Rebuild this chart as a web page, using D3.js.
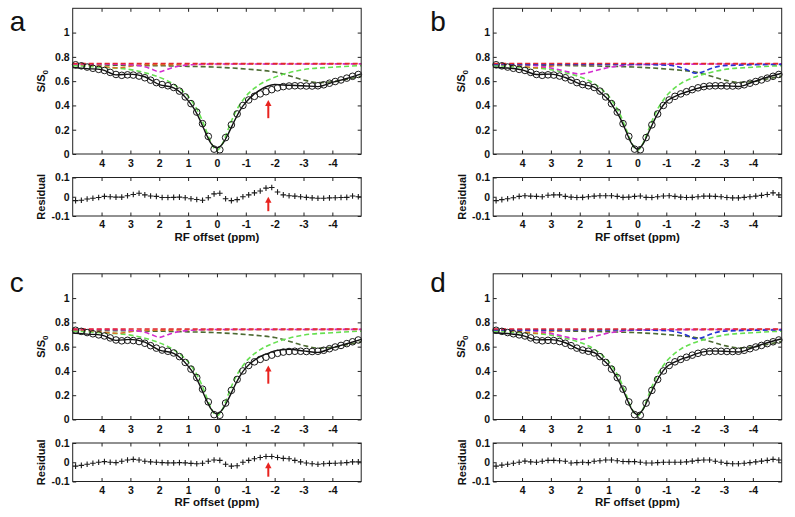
<!DOCTYPE html>
<html><head><meta charset="utf-8">
<script src="https://cdn.jsdelivr.net/npm/d3@7"></script>
<style>body{margin:0;background:#fff}svg{display:block}</style>
</head><body>
<svg id="c" width="795" height="517"></svg>
<script>
// ---------- data ----------
const panelLabels = ["a","b","c","d"];
const xTicks = [4,3,2,1,0,-1,-2,-3,-4];
const yTicks = [0,0.2,0.4,0.6,0.8,1];
const rTicks = [-0.1,0,0.1];

const offsets = [4.9,4.7,4.5,4.3,4.1,3.9,3.7,3.5,3.3,3.1,2.9,2.7,2.5,2.3,2.1,1.9,1.7,1.5,1.3,1.1,0.9,0.7,0.5,0.3,0.1,-0.1,-0.3,-0.5,-0.7,-0.9,-1.1,-1.3,-1.5,-1.7,-1.9,-2.1,-2.3,-2.5,-2.7,-2.9,-3.1,-3.3,-3.5,-3.7,-3.9,-4.1,-4.3,-4.5,-4.7,-4.9];
const zData = [0.735,0.726,0.716,0.706,0.697,0.688,0.672,0.655,0.648,0.652,0.65,0.642,0.628,0.608,0.588,0.572,0.562,0.548,0.518,0.47,0.415,0.345,0.25,0.145,0.04,0.035,0.135,0.24,0.33,0.4,0.445,0.475,0.495,0.513,0.53,0.545,0.555,0.56,0.562,0.562,0.56,0.56,0.562,0.57,0.583,0.597,0.61,0.625,0.64,0.655];

const residA = [-0.02,-0.018,-0.012,-0.008,-0.004,0.002,0.0,-0.002,-0.002,0.005,0.012,0.018,0.01,0.004,0.002,-0.004,-0.004,-0.003,-0.002,-0.005,-0.01,-0.014,-0.018,-0.005,0.015,0.018,-0.01,-0.02,-0.015,0.0,0.01,0.02,0.03,0.045,0.048,0.025,0.01,0.005,0.003,0.0,-0.003,-0.006,-0.008,-0.008,-0.006,-0.005,-0.004,-0.003,0.004,0.0];
const residB = [-0.02,-0.015,-0.01,-0.005,0.002,0.005,0.003,0.002,0.0,0.008,0.01,0.01,0.002,-0.002,-0.004,-0.003,0.0,0.003,0.005,0.005,0.005,0.002,-0.003,-0.002,0.002,0.004,-0.003,-0.004,0.0,0.004,0.005,0.002,-0.002,-0.004,-0.003,0.0,0.003,0.003,0.002,0.0,-0.004,-0.006,-0.006,-0.003,0.0,0.003,0.007,0.012,0.02,0.01];
const residC = [-0.02,-0.016,-0.01,-0.005,0.0,0.003,0.0,-0.002,0.005,0.012,0.015,0.012,0.005,0.002,0.0,-0.002,-0.003,-0.003,-0.002,-0.003,-0.006,-0.008,-0.005,0.005,0.012,0.01,-0.01,-0.02,-0.018,0.0,0.01,0.018,0.025,0.03,0.03,0.025,0.02,0.018,0.01,0.002,-0.004,-0.008,-0.01,-0.008,-0.006,-0.005,-0.004,-0.002,0.002,0.002];
const residD = [-0.02,-0.015,-0.01,-0.005,0.0,0.006,0.002,0.0,0.005,0.01,0.01,0.008,0.005,-0.004,-0.002,0.0,-0.002,0.005,0.008,0.012,0.012,0.008,0.004,0.003,0.003,0.0,-0.004,-0.004,-0.002,0.0,0.0,0.0,0.0,0.002,0.006,0.01,0.012,0.012,0.005,0.0,-0.006,-0.008,-0.008,-0.005,-0.002,0.002,0.006,0.01,0.015,0.012];

const fitX = [5,4.5,4,3.5,3,2.5,2,1.5,1.25,1,0.8,0.6,0.4,0.2,0,-0.2,-0.4,-0.6,-0.8,-1,-1.25,-1.5,-1.75,-2,-2.5,-3,-3.5,-4,-4.5,-5];
const fitA = [0.712,0.703,0.695,0.652,0.658,0.636,0.572,0.545,0.505,0.44,0.375,0.285,0.178,0.085,0.05,0.085,0.17,0.27,0.36,0.425,0.485,0.528,0.558,0.572,0.566,0.562,0.555,0.59,0.622,0.66];
const fitB = [0.715,0.708,0.693,0.655,0.658,0.63,0.578,0.55,0.5,0.445,0.375,0.295,0.19,0.085,0.04,0.085,0.185,0.285,0.37,0.43,0.468,0.495,0.515,0.535,0.56,0.562,0.556,0.593,0.632,0.665];
const fitC = [0.712,0.703,0.695,0.652,0.66,0.638,0.572,0.545,0.505,0.44,0.375,0.285,0.178,0.085,0.045,0.085,0.17,0.27,0.36,0.425,0.48,0.518,0.543,0.565,0.578,0.565,0.553,0.59,0.624,0.66];
const fitD = [0.715,0.708,0.693,0.656,0.658,0.632,0.575,0.552,0.503,0.447,0.377,0.295,0.19,0.085,0.04,0.085,0.185,0.285,0.37,0.43,0.468,0.495,0.515,0.537,0.565,0.562,0.556,0.593,0.632,0.665];

// water (light green)
const waterX = [5,4,3,2.5,2,1.5,1.2,1,0.8,0.6,0.4,0.2,0,-0.2,-0.4,-0.6,-0.8,-1,-1.2,-1.5,-2,-2.5,-3,-4,-5];
const waterA = [0.728,0.715,0.695,0.67,0.632,0.575,0.522,0.475,0.41,0.325,0.21,0.09,0.03,0.09,0.21,0.325,0.41,0.475,0.522,0.575,0.632,0.67,0.695,0.715,0.728];
const waterB = [0.728,0.715,0.695,0.67,0.635,0.58,0.525,0.478,0.41,0.325,0.21,0.09,0.03,0.09,0.21,0.325,0.41,0.478,0.525,0.58,0.635,0.67,0.695,0.715,0.728];
// NOE / MT (dark olive)
const noeX = [5,4,3,2,1,0,-1,-1.5,-2,-2.5,-3,-3.5,-4,-4.5,-5];
const noeA = [0.736,0.733,0.73,0.727,0.722,0.715,0.70,0.69,0.675,0.645,0.61,0.588,0.595,0.615,0.64];
const noeB = [0.736,0.733,0.73,0.727,0.722,0.715,0.70,0.69,0.675,0.645,0.61,0.59,0.597,0.618,0.643];
// amine 2 ppm (magenta)
const amineX = [5,4,3.5,3,2.5,2.25,2,1.75,1.5,1,0.5,0,-5];
const amineA = [0.742,0.741,0.74,0.735,0.718,0.698,0.676,0.695,0.715,0.733,0.739,0.741,0.742];
const amineB = [0.742,0.738,0.728,0.708,0.682,0.668,0.658,0.668,0.684,0.712,0.73,0.738,0.742];
// amide 3.5 ppm (orange)
const amideX = [5,4.5,4,3.75,3.5,3.25,3,2.5,-5];
const amideA = [0.74,0.735,0.722,0.714,0.71,0.714,0.724,0.735,0.741];
// -2 ppm pool (blue)
const blueX = [5,0,-1,-1.5,-1.75,-2,-2.25,-2.5,-3,-5];
const blueB = [0.738,0.737,0.732,0.713,0.69,0.665,0.676,0.70,0.728,0.738];
// constant (red)
const redX = [5,-5];
const redY = [0.745,0.745];

const arrowAt = -1.78;

const panels = [
  {label:"a", fit:fitA, resid:residA, water:waterA, noe:noeA, amine:amineA, amide:amideA, blue:null, arrow:true},
  {label:"b", fit:fitB, resid:residB, water:waterB, noe:noeB, amine:amineB, amide:amideA, blue:blueB, arrow:false},
  {label:"c", fit:fitC, resid:residC, water:waterA, noe:noeA, amine:amineA, amide:amideA, blue:null, arrow:true},
  {label:"d", fit:fitD, resid:residD, water:waterB, noe:noeB, amine:amineB, amide:amideA, blue:blueB, arrow:false}
];

// ---------- layout ----------
const svg = d3.select("#c");
const colL = [72.7, 493.2], colW = 288.5;
const rowT = [8.3, 273.8], mainH = 145.7, resOff = 169.2, resH = 38.5;
const labelDY = [22.8, 18.5];
const tickFont = "bold 10.5px 'Liberation Sans', Arial, sans-serif";
const colors = {red:"#e4262e", amide:"#d8742a", amine:"#d42ccf", blue:"#2634d4", noe:"#4d6b33", water:"#66e050"};

panels.forEach((p,i) => {
  const L = colL[i%2], row = Math.floor(i/2), T = rowT[row];
  const x = d3.scaleLinear().domain([5,-5]).range([L, L+colW]);
  const y = d3.scaleLinear().domain([0,1.2]).range([T+mainH, T]);
  const rT = T + resOff;
  const yr = d3.scaleLinear().domain([-0.1,0.1]).range([rT+resH, rT]);
  const g = svg.append("g");

  // panel label
  g.append("text").attr("x", L-63).attr("y", T+labelDY[row])
    .style("font","28px 'Liberation Sans', Arial, sans-serif").attr("fill","#111").text(p.label);

  function axesFor(ys, ticks, top, h, pad) {
    const fmt = d => String(d);
    const ax = g.append("g").attr("transform",`translate(0,${top+h})`)
      .call(d3.axisBottom(x).tickValues(xTicks).tickFormat(fmt).tickSize(-3.5).tickPadding(pad));
    const axt = g.append("g").attr("transform",`translate(0,${top})`)
      .call(d3.axisTop(x).tickValues(xTicks).tickFormat("").tickSize(-3.5));
    const ayl = g.append("g").attr("transform",`translate(${L},0)`)
      .call(d3.axisLeft(ys).tickValues(ticks).tickFormat(fmt).tickSize(-3.5).tickPadding(3));
    const ayr = g.append("g").attr("transform",`translate(${L+colW},0)`)
      .call(d3.axisRight(ys).tickValues(ticks).tickFormat("").tickSize(-3.5));
    [ax,axt,ayl,ayr].forEach(a => {
      a.select(".domain").remove();
      a.selectAll("line").attr("stroke","#222").attr("stroke-width",1);
      a.selectAll("text").style("font", tickFont).attr("fill","#111");
    });
    g.append("rect").attr("x",L).attr("y",top).attr("width",colW).attr("height",h)
      .attr("fill","none").attr("stroke","#222").attr("stroke-width",1);
  }

  // component lines
  const line = (xs, ys) => d3.line().x((d,k)=>x(xs[k])).y(d=>y(d)).curve(d3.curveMonotoneX)(ys);
  const dashed = (xs, ys, col) => g.append("path").attr("d", line(xs, ys))
      .attr("fill","none").attr("stroke",col).attr("stroke-width",1.6).attr("stroke-dasharray","5,3");

  dashed(noeX, p.noe, colors.noe);
  dashed(waterX, p.water, colors.water);
  dashed(amideX, p.amide, colors.amide);
  dashed(amineX, p.amine, colors.amine);
  if (p.blue) dashed(blueX, p.blue, colors.blue);
  dashed(redX, redY, colors.red);

  // fit line
  g.append("path").attr("d", line(fitX, p.fit)).attr("fill","none")
    .attr("stroke","#111").attr("stroke-width",1.4);

  // data circles
  g.append("g").selectAll("circle").data(zData).join("circle")
    .attr("cx",(d,k)=>x(offsets[k])).attr("cy",d=>y(d)).attr("r",3.3)
    .attr("fill","none").attr("stroke","#1a1a1a").attr("stroke-width",1);

  axesFor(y, yTicks, T, mainH, 6);

  // residual panel
  axesFor(yr, rTicks, rT, resH, 5);
  const pg = g.append("g");
  p.resid.forEach((v,k) => {
    const cx = x(offsets[k]), cy = yr(v);
    pg.append("path").attr("d",`M${cx-2.8},${cy}H${cx+2.8}M${cx},${cy-2.8}V${cy+2.8}`)
      .attr("stroke","#1a1a1a").attr("stroke-width",1.1);
  });

  // axis labels
  g.append("text").attr("x", L+colW/2).attr("y", rT+resH+24.5)
    .attr("text-anchor","middle").style("font","bold 11.5px 'Liberation Sans', Arial, sans-serif")
    .attr("fill","#111").text("RF offset (ppm)");
  const sl = g.append("text").attr("transform",`translate(${L-28},${T+mainH*0.5}) rotate(-90)`)
    .attr("text-anchor","middle").style("font","bold 11px 'Liberation Sans', Arial, sans-serif").attr("fill","#111");
  sl.append("tspan").text("S/S");
  sl.append("tspan").attr("dy","3").style("font-size","8px").text("0");
  g.append("text").attr("transform",`translate(${L-27.5},${rT+resH/2}) rotate(-90)`)
    .attr("text-anchor","middle").style("font","bold 11px 'Liberation Sans', Arial, sans-serif")
    .attr("fill","#111").text("Residual");

  // red arrows
  if (p.arrow) {
    const ax0 = x(arrowAt);
    const drawArrow = (yTip, yBase) => {
      g.append("line").attr("x1",ax0).attr("x2",ax0).attr("y1",yBase).attr("y2",yTip+5)
        .attr("stroke","#e8231f").attr("stroke-width",2);
      g.append("path").attr("d",`M${ax0-3.2},${yTip+6}L${ax0},${yTip}L${ax0+3.2},${yTip+6}Z`).attr("fill","#e8231f");
    };
    drawArrow(y(0.445), y(0.295));
    drawArrow(yr(0.0), yr(-0.075));
  }
});
</script>
</body></html>
